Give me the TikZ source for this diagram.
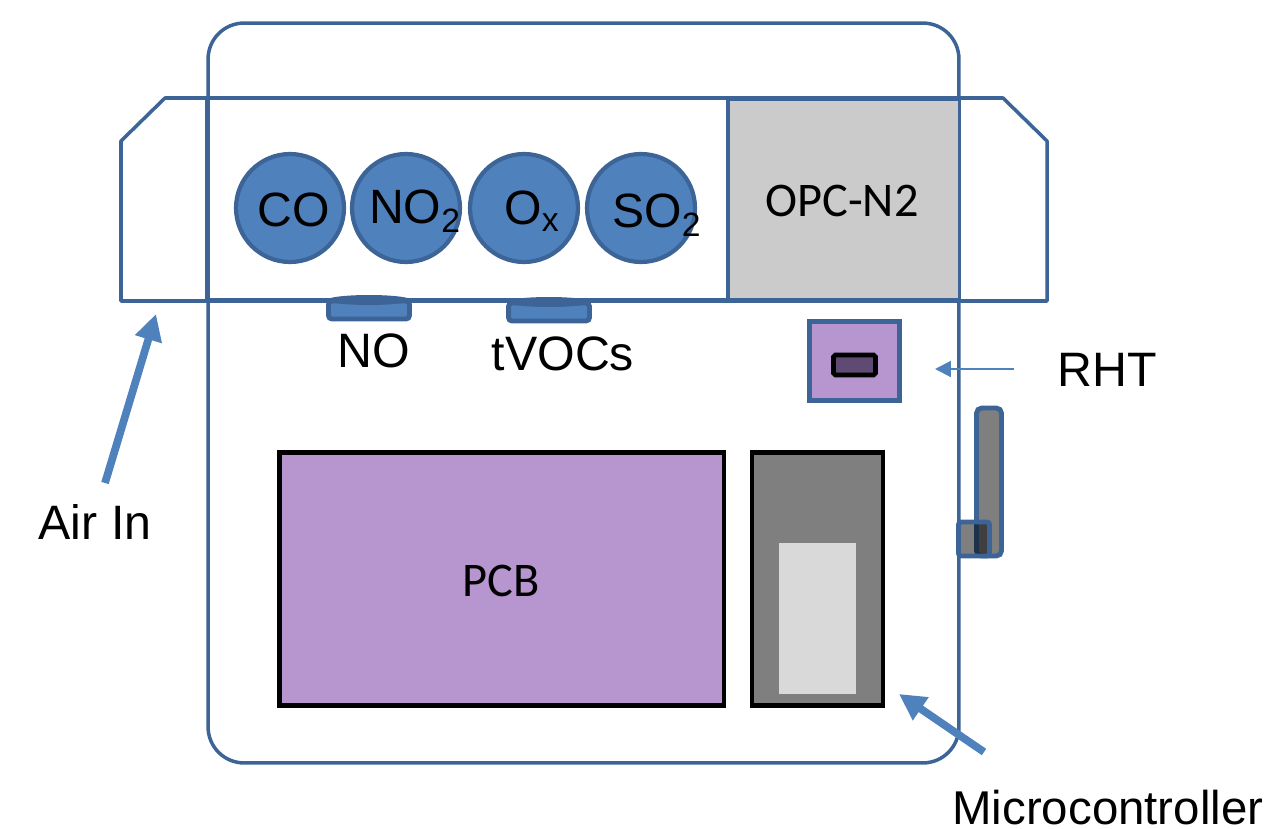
\documentclass[tikz,border=0pt]{standalone}
\usepackage{fontspec}
\setmainfont{Liberation Sans}
\newfontfamily\boxfont{Carlito}
\usepackage{xcolor}
\usetikzlibrary{positioning,arrows.meta,shapes.geometric}
\definecolor{caseblue}{HTML}{3C6496}
\definecolor{sensorblue}{HTML}{4F81BD}
\definecolor{boardpurple}{HTML}{B795CF}
\definecolor{opcgray}{HTML}{CBCBCB}
\definecolor{modulegray}{HTML}{7F7F7F}
\definecolor{chipgray}{HTML}{D9D9D9}
\definecolor{rhtdark}{HTML}{5E4A72}

\begin{document}
\begin{tikzpicture}[x=0.02cm, y=-0.02cm,
    block/.style={rectangle, draw=black, line width=2.8pt, inner sep=0pt, align=center},
    boxtext/.style={font=\boxfont\fontsize{27.5}{30}\selectfont, inner sep=0pt},
    sensor/.style={circle, draw=caseblue, line width=2.4pt, fill=sensorblue, inner sep=0pt, minimum size=2.16cm},
    sensortext/.style={font=\fontsize{27.4}{30}\selectfont, inner sep=0pt},
    smallsensor/.style={rectangle, draw=caseblue, line width=2.8pt, fill=sensorblue, rounded corners=2pt, inner sep=0pt, minimum width=1.62cm, minimum height=0.36cm},
    sensorcap/.style={ellipse, fill=caseblue, inner sep=0pt, minimum width=1.68cm, minimum height=0.2cm},
    caption/.style={font=\fontsize{27.5}{30}\selectfont, inner sep=0pt},
    arrow/.style={-{Triangle[length=15pt, width=15pt]}, sensorblue, line width=4.4pt},
    thinarrow/.style={-{Triangle[length=9pt, width=9pt]}, sensorblue, line width=1.2pt}]
    \useasboundingbox (0,0) rectangle (1267,828);

    % Case
    \node[rectangle, draw=caseblue, line width=2pt, rounded corners=0.72cm, inner sep=0pt, minimum width=15.02cm, minimum height=14.8cm] (case) at (583.5,393) {};

    % Air duct
    \draw[caseblue, line width=2pt, line join=round] (121,141) -- (165,98) -- (1003,98) -- (1047,141) -- (1047,301) -- (121,301) -- cycle;

    % Optical counter
    \node[rectangle, fill=opcgray, inner sep=0pt, minimum width=4.62cm, minimum height=4.0cm] (opc) at (843.5,199.5) {};
    \node[boxtext] (opctext) at (842,201) {OPC-N2};
    \draw[caseblue, line width=2pt] (opc.north west) -- (opc.north east) -- (opc.south east) -- (opc.south west);
    \node[rectangle, draw=caseblue, line width=2.6pt, inner sep=0pt, minimum width=10.42cm, minimum height=4.04cm] (chamber) at (467.5,199) {};

    % Gas sensors
    \node[sensor] (co) at (290,208) {};
    \node[sensor] (notwo) at (406,208) {};
    \node[sensor] (ox) at (524,208) {};
    \node[sensor] (sotwo) at (641,208) {};
    \node[sensortext] (cotext) at (294,210) {CO};
    \node[sensortext] (notwotext) at (415,211) {NO\textsubscript{2}};
    \node[sensortext] (oxtext) at (532,211) {O\textsubscript{x}};
    \node[sensortext] (sotwotext) at (657,215) {SO\textsubscript{2}};

    % Small sensors below the chamber
    \node[smallsensor] (no) at (369,310) {};
    \node[sensorcap] (nocap) at (369,300) {};
    \node[smallsensor] (tvocs) at (549,312) {};
    \node[sensorcap] (tvocscap) at (549,302) {};
    \node[caption] (nolabel) at (374,351) {NO};
    \node[caption] (tvocslabel) at (563,354) {tVOCs};

    % RHT sensor
    \node[rectangle, draw=caseblue, line width=2.6pt, fill=boardpurple, inner sep=0pt, minimum width=1.8cm, minimum height=1.58cm] (rht) at (854.5,361) {};
    \node[rectangle, draw=black, line width=2.6pt, rounded corners=1pt, fill=rhtdark, inner sep=0pt, minimum width=0.84cm, minimum height=0.4cm] (rhtchip) at (854.5,365) {};
    \node[caption, anchor=west] (rhtlabel) at (1057,370) {RHT};
    \coordinate (rhtstart) at (1014,369);
    \coordinate (rhtend) at (935,369);
    \draw[thinarrow] (rhtstart) -- (rhtend);

    % Boards
    \node[block, fill=boardpurple, minimum width=8.9cm, minimum height=5.06cm] (pcb) at (501.5,579) {};
    \node[boxtext] (pcbtext) at (501,581) {PCB};
    \node[block, fill=modulegray, minimum width=2.62cm, minimum height=5.06cm] (micro) at (817.5,579) {};
    \node[rectangle, fill=chipgray, inner sep=0pt, minimum width=1.54cm, minimum height=3.02cm] (chip) at (817.5,618.5) {};

    % Antenna
    \node[rectangle, draw=caseblue, line width=2.8pt, rounded corners=3pt, fill=modulegray, inner sep=0pt, minimum width=0.5cm, minimum height=2.96cm] (antenna) at (989,482) {};
    \node[rectangle, draw=caseblue, line width=2.8pt, rounded corners=1.5pt, fill=black, fill opacity=0.5, draw opacity=1, inner sep=0pt, minimum width=0.62cm, minimum height=0.68cm] (plug) at (974,539) {};

    % Labels and arrows
    \node[caption] (airlabel) at (95,522) {Air In};
    \coordinate (airstart) at (105,483);
    \coordinate (airend) at (156,314);
    \draw[arrow] (airstart) -- (airend);
    \node[caption, anchor=west, font=\fontsize{27}{30}\selectfont] (microlabel) at (952,808) {Microcontroller};
    \coordinate (microstart) at (984,752);
    \coordinate (microend) at (899,694);
    \draw[arrow] (microstart) -- (microend);
\end{tikzpicture}
\end{document}
